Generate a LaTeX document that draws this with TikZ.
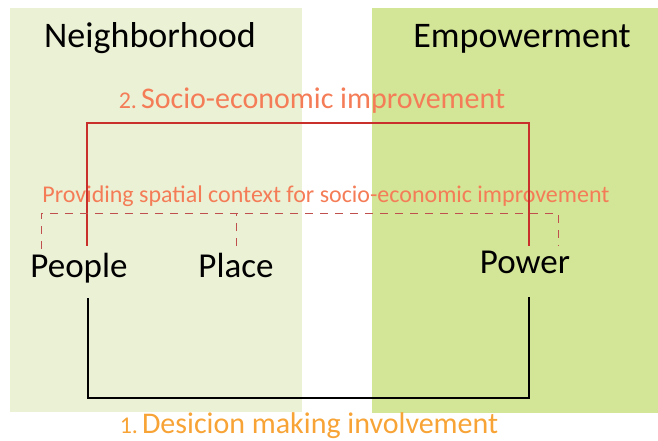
\documentclass[tikz,border=0pt]{standalone}
\usepackage{fontspec}
\setmainfont{Carlito}
\definecolor{hoodgreen}{HTML}{EBF1D5}
\definecolor{powergreen}{HTML}{D3E597}
\definecolor{socred}{HTML}{C9302C}
\definecolor{socorange}{HTML}{F47C57}
\definecolor{spatred}{HTML}{C0504D}
\definecolor{decorange}{HTML}{F7A335}
\begin{document}
\begin{tikzpicture}[x=1pt,y=-1pt,
  word/.style={inner sep=0pt,anchor=base,text height=24pt,text depth=8pt,font=\fontsize{35}{40}\selectfont},
  title/.style={inner sep=0pt,anchor=base,font=\fontsize{36}{40}\selectfont},
  label/.style={inner sep=0pt,anchor=base,font=\fontsize{30}{34}\selectfont},
  socline/.style={socred,line width=1.3pt},
  decline/.style={black,line width=1.3pt},
  spatline/.style={spatred,line width=1pt,dash pattern=on 8pt off 7pt}]
\useasboundingbox (0,0) rectangle (658,440);
\fill[hoodgreen] (10,8) rectangle (302,412);
\fill[powergreen] (372,8) rectangle (658,413);

\node[title] (Hood) at (150,47) {Neighborhood};
\node[title] (Empower) at (522,47) {Empowerment};

\node[word] (People) at (79,277) {People};
\node[word] (Place) at (236,277) {Place};
\node[word] (Power) at (525,273) {Power};

\node[label,text=socorange] (Soc) at (312,108) {{\fontsize{24}{28}\selectfont 2.}\hspace{4pt}Socio-economic improvement};
\node[label,text=socorange,font=\fontsize{24}{28}\selectfont] (Spat) at (326,202) {Providing spatial context for socio-economic improvement};
\node[label,text=decorange] (Dec) at (309,433) {{\fontsize{24}{28}\selectfont 1.}\hspace{4pt}Desicion making involvement};

\coordinate (topY) at (0,123);
\coordinate (spatY) at (0,213);
\coordinate (botY) at (0,398);

% socio-economic improvement
\coordinate (pplT) at ([shift={(8,-7)}]People.north);
\coordinate (pwrT) at ([shift={(4,-3)}]Power.north);
\draw[socline] (pplT) |- (topY -| pwrT) -- (pwrT);

% spatial context
\coordinate (pplD) at ([shift={(11,-4)}]People.north west);
\coordinate (pwrD) at ([shift={(-12,-3)}]Power.north east);
\coordinate (plcT) at ([shift={(0,-7)}]Place.north);
\draw[spatline] (pplD) |- (spatY -| pwrD) -- (pwrD);
\draw[spatline] (plcT) -- (plcT |- spatY);

% decision making involvement
\coordinate (pplB) at ([shift={(9,13)}]People.south);
\coordinate (pwrB) at ([shift={(4,16)}]Power.south);
\draw[decline] (pplB) |- (botY -| pwrB) -- (pwrB);
\end{tikzpicture}
\end{document}
